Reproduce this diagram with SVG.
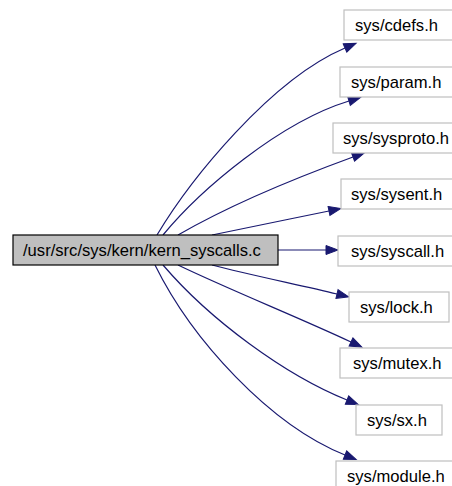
<svg xmlns="http://www.w3.org/2000/svg" width="452" height="486" viewBox="0 0 452 486">
  <style>
    .node rect { fill: #ffffff; stroke: #bfbfbf; stroke-width: 1.2; }
    .node.root rect { fill: #bfbfbf; stroke: #000000; stroke-width: 1.2; }
    .node text { font-family: "Liberation Sans", Arial, sans-serif; font-size: 16.6px; fill: #000000; }
    .edge { fill: none; stroke: #191970; stroke-width: 1.2; marker-end: url(#arrow); }
  </style>
  <defs>
    <marker id="arrow" markerUnits="userSpaceOnUse" markerWidth="14" markerHeight="12" refX="0" refY="0" viewBox="0 -6 13 12" orient="auto" overflow="visible">
      <path d="M0,-4.5 L12,0 L0,4.5 z" fill="#191970" stroke="#191970" stroke-width="1"/>
    </marker>
  </defs>

  <g id="connectors">
    <path class="edge" d="M157,235 C190,180 270,80 345,48"/>
    <path class="edge" d="M163,235 C200,190 280,122 349,101"/>
    <path class="edge" d="M178,235 C230,205 290,180 353,157"/>
    <path class="edge" d="M212,235 C250,227 290,219 329,211"/>
    <path class="edge" d="M278,250 L326,250"/>
    <path class="edge" d="M212,265 C250,275 300,285 337,294"/>
    <path class="edge" d="M178,265 C230,290 300,318 351,342"/>
    <path class="edge" d="M163,265 C210,320 285,375 347,400"/>
    <path class="edge" d="M155,265 C192,340 270,425 345,455"/>
  </g>

  <g id="kern_syscalls_c" class="node root">
    <rect x="13" y="235" width="265" height="30"/>
    <text x="23" y="256">/usr/src/sys/kern/kern_syscalls.c</text>
  </g>
  <g id="sys_cdefs_h" class="node">
    <rect x="344" y="10" width="112" height="30"/>
    <text x="355" y="31">sys/cdefs.h</text>
  </g>
  <g id="sys_param_h" class="node">
    <rect x="340" y="67" width="118" height="30"/>
    <text x="351" y="88">sys/param.h</text>
  </g>
  <g id="sys_sysproto_h" class="node">
    <rect x="333" y="123" width="125" height="30"/>
    <text x="343" y="144">sys/sysproto.h</text>
  </g>
  <g id="sys_sysent_h" class="node">
    <rect x="341" y="179" width="117" height="30"/>
    <text x="351" y="200">sys/sysent.h</text>
  </g>
  <g id="sys_syscall_h" class="node">
    <rect x="338" y="236" width="120" height="30"/>
    <text x="351" y="257">sys/syscall.h</text>
  </g>
  <g id="sys_lock_h" class="node">
    <rect x="349" y="292" width="100" height="30"/>
    <text x="360" y="313">sys/lock.h</text>
  </g>
  <g id="sys_mutex_h" class="node">
    <rect x="340" y="348" width="118" height="30"/>
    <text x="353" y="369">sys/mutex.h</text>
  </g>
  <g id="sys_sx_h" class="node">
    <rect x="356" y="405" width="86" height="30"/>
    <text x="367" y="426">sys/sx.h</text>
  </g>
  <g id="sys_module_h" class="node">
    <rect x="336" y="461" width="122" height="30"/>
    <text x="347" y="482">sys/module.h</text>
  </g>
</svg>
